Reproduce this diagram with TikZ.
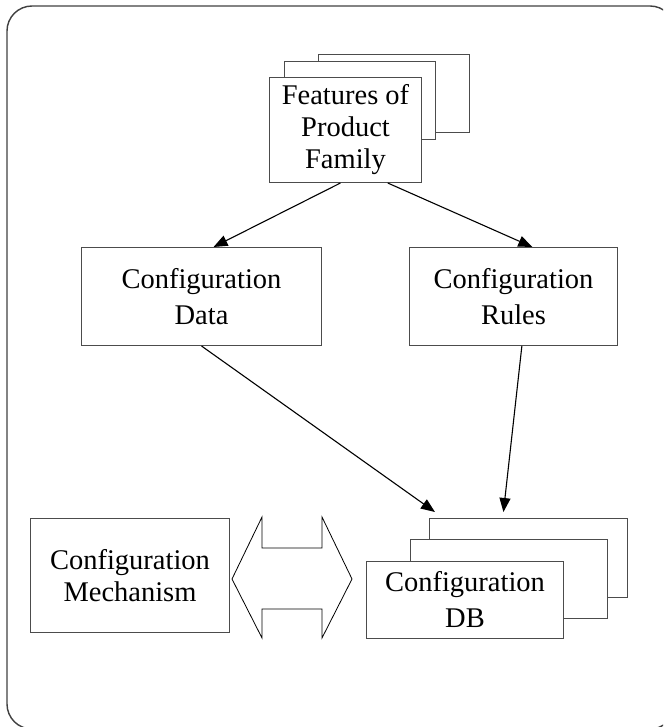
\documentclass[tikz,border=0pt]{standalone}
\usepackage{fontspec}
\setmainfont{Liberation Serif}
\usetikzlibrary{arrows.meta,calc}

\tikzset{
  page/.style={draw=black!70, line width=1pt, fill=white, anchor=north west,
    inner sep=0pt, align=center, font=\fontsize{28.5}{36}\selectfont},
  tight/.style={font=\fontsize{28.5}{32}\selectfont},
  flow/.style={draw=black, line width=1.1pt, -{Triangle[length=14pt,width=11pt]}},
  frame/.style={draw=black!75, line width=1.4pt, rounded corners=25pt},
  twoway/.style={draw=black, line width=0.8pt, fill=white, line join=miter}
}

\begin{document}
\begin{tikzpicture}[x=1pt, y=-1pt]
  \useasboundingbox (0,0) rectangle (663,727);
  \begin{scope}
    \clip (0,0) rectangle (663,727);
    \draw[frame] (7,6) rectangle (675,729);
  \end{scope}

  % stacked sheets: feature list
  \node[page, minimum width=151pt, minimum height=78pt] (feat3) at (318,54) {};
  \node[page, minimum width=151pt, minimum height=78pt] (feat2) at (284,61) {};
  \node[page, tight, minimum width=152pt, minimum height=105pt] (feat) at (269,77)
    {Features of\\Product\\Family};

  % configuration inputs
  \node[page, minimum width=240pt, minimum height=98pt] (data) at (81,247)
    {Configuration\\Data};
  \node[page, minimum width=208pt, minimum height=98pt] (rules) at (409,247)
    {Configuration\\Rules};

  % stacked sheets: database
  \node[page, minimum width=198pt, minimum height=79pt] (db3) at (429,518) {};
  \node[page, minimum width=197pt, minimum height=79pt] (db2) at (410,539) {};
  \node[page, minimum width=197pt, minimum height=77pt] (db) at (366,561)
    {Configuration\\DB};

  % mechanism
  \node[page, tight, minimum width=199pt, minimum height=114pt] (mech) at (30,518)
    {Configuration\\Mechanism};

  % two-way block arrow between mechanism and database
  \draw[twoway] (232,579) -- (262,517) -- (262,548) -- (322,548) -- (322,517)
    -- (352,579) -- (322,638) -- (322,609) -- (262,609) -- (262,638) -- cycle;

  % flows
  \coordinate (f1) at ($(feat.south west)!0.467!(feat.south east)$);
  \coordinate (f2) at ($(feat.south west)!0.776!(feat.south east)$);
  \coordinate (d1) at ($(data.north west)!0.55!(data.north east)$);
  \coordinate (r1) at ($(rules.north west)!0.59!(rules.north east)$);
  \coordinate (d2) at ($(data.south west)!0.5!(data.south east)$);
  \coordinate (r2) at ($(rules.south west)!0.54!(rules.south east)$);
  \coordinate (b1) at ($(db3.north west)!0.03!(db3.north east) + (0,-6)$);
  \coordinate (b2) at ($(db3.north west)!0.374!(db3.north east) + (0,-6)$);

  \draw[flow] (f1) -- (d1);
  \draw[flow] (f2) -- (r1);
  \draw[flow] (d2) -- (b1);
  \draw[flow] (r2) -- (b2);
\end{tikzpicture}
\end{document}
